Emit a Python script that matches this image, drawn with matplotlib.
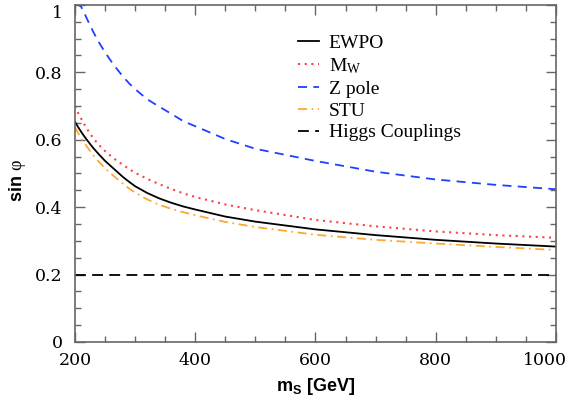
import numpy as np
import matplotlib
matplotlib.use('Agg')
import matplotlib.pyplot as plt
from matplotlib.ticker import MultipleLocator
from matplotlib.transforms import ScaledTranslation

plt.rcParams['mathtext.fontset'] = 'custom'
plt.rcParams['mathtext.rm'] = 'Liberation Serif'
plt.rcParams['mathtext.it'] = 'Liberation Serif:italic'
plt.rcParams['mathtext.bf'] = 'Liberation Sans:bold'

# scalar mass grid [GeV]
m_s = [200, 205, 210, 215, 220, 230, 240, 250, 260, 270, 280, 290, 300,
       320, 340, 360, 380, 400, 450, 500, 600, 700, 800, 900, 1000]

# upper limits on sin(phi)
ewpo = [0.653, 0.638, 0.624, 0.611, 0.599, 0.576, 0.556, 0.537, 0.521, 0.505, 0.489, 0.475, 0.462,
        0.442, 0.426, 0.413, 0.402, 0.393, 0.372, 0.357, 0.334, 0.317, 0.303, 0.292, 0.283]
m_w = [0.700, 0.680, 0.663, 0.647, 0.632, 0.605, 0.584, 0.566, 0.551, 0.537, 0.525, 0.513, 0.502,
       0.484, 0.468, 0.454, 0.441, 0.430, 0.408, 0.391, 0.362, 0.343, 0.328, 0.317, 0.309]
z_pole = [1.000, 1.000, 0.995, 0.978, 0.958, 0.921, 0.888, 0.859, 0.833, 0.809, 0.787, 0.767, 0.750,
          0.720, 0.698, 0.677, 0.655, 0.640, 0.602, 0.573, 0.537, 0.505, 0.482, 0.466, 0.453]
stu = [0.637, 0.620, 0.605, 0.592, 0.579, 0.555, 0.534, 0.515, 0.499, 0.484, 0.469, 0.455, 0.443,
       0.423, 0.407, 0.395, 0.385, 0.376, 0.356, 0.341, 0.318, 0.303, 0.292, 0.282, 0.273]
higgs = [0.2] * len(m_s)

x_ticks = [200, 400, 600, 800, 1000]
y_ticks = [0, 0.2, 0.4, 0.6, 0.8, 1.0]
y_tick_labels = ['0', '0.2', '0.4', '0.6', '0.8', '1']

fig = plt.figure(figsize=(5.74, 4.04), dpi=100)
ax = fig.add_axes([0.1307, 0.1535, 0.8379, 0.8345])

ax.plot(m_s, ewpo, color='black', lw=1.3, label='EWPO')
ax.plot(m_s, m_w, color='#ff4040', lw=1.5, linestyle=(0, (1, 2.2)), label=r'M$_{\mathrm{W}}$')
ax.plot(m_s, z_pole, color='#2040ff', lw=1.3, linestyle=(0, (5, 3.5)), label='Z pole')
ax.plot(m_s, stu, color='#ffa830', lw=1.3, linestyle=(0, (5, 2.5, 1, 2.5)), label='STU')
ax.plot(m_s, higgs, color='black', lw=1.3, linestyle=(0, (6, 3.5)), label='Higgs Couplings')

ax.set_xlim(200, 1000)
ax.set_ylim(0, 1)
ax.set_xticks(x_ticks)
ax.xaxis.set_minor_locator(MultipleLocator(50))
ax.set_yticks(y_ticks)
ax.set_yticklabels(y_tick_labels)
ax.yaxis.set_minor_locator(MultipleLocator(0.05))

ax.tick_params(which='both', direction='in', top=True, right=True, color='#666666')
ax.tick_params(which='major', length=7, width=1)
ax.tick_params(which='minor', length=4, width=1)
ax.tick_params(labelsize=12.5)
ax.tick_params(axis='x', pad=7)
ax.tick_params(axis='y', pad=9)
for lab in ax.get_xticklabels() + ax.get_yticklabels():
    lab.set_family('DejaVu Serif')
# the top label sits just under the frame, as in the original
ax.yaxis.get_major_ticks()[-1].label1.set_verticalalignment('top')
# nudge the last x label so it stays inside the figure
last = ax.xaxis.get_major_ticks()[-1].label1
last.set_transform(last.get_transform() + ScaledTranslation(-8 / 72, 0, fig.dpi_scale_trans))
for sp in ax.spines.values():
    sp.set_color('#666666')
    sp.set_linewidth(1.2)

ax.set_xlabel(r'$\mathbf{m_S}$ [GeV]', fontsize=13, fontweight='bold', family='Liberation Sans', labelpad=5)
ax.set_ylabel(r'sin $\mathrm{\varphi}$', fontsize=13, fontweight='bold', family='Liberation Sans')
ax.yaxis.set_label_coords(-0.098, 0.48)

ax.legend(loc='upper left', bbox_to_anchor=(0.428, 0.965), frameon=False, handlelength=1.05,
          handletextpad=0.5, labelspacing=0.22, prop={'family': 'Liberation Serif', 'size': 14})

fig.savefig('out.png', dpi=100)
